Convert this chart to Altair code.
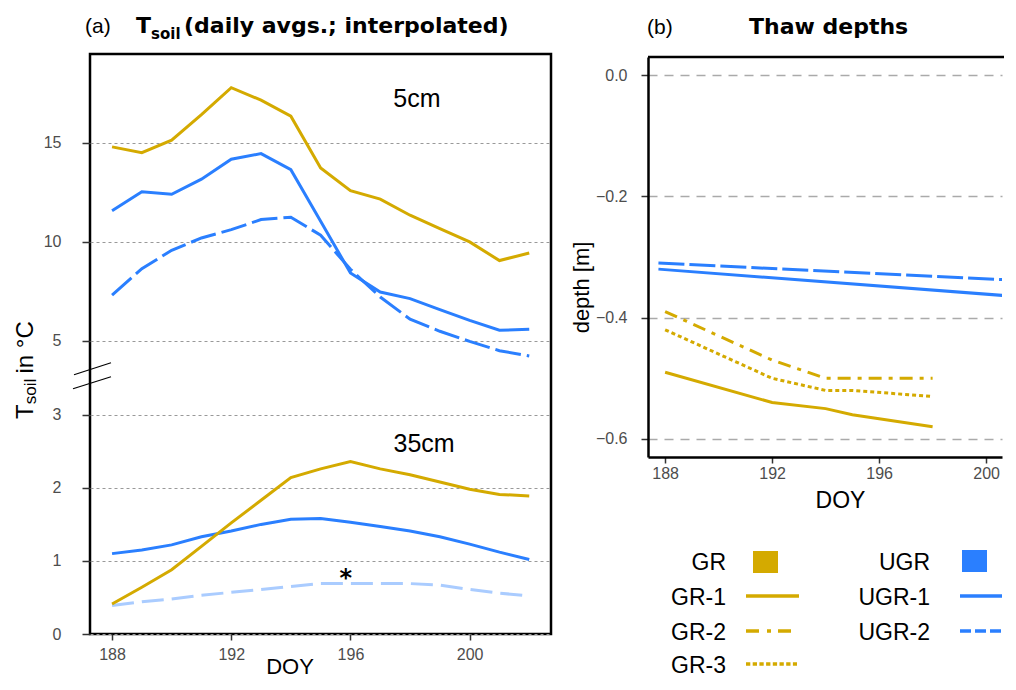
import altair as alt
import pandas as pd

# ---------------- data ----------------
days_a = [188, 189, 190, 191, 192, 193, 194, 195, 196, 197, 198, 199, 200, 201, 202]
gr_5cm = [14.80, 14.51, 15.14, 16.43, 17.79, 17.16, 16.35, 13.74, 12.59, 12.16, 11.35, 10.67, 10.00, 9.06, 9.44]
ugr1_5cm = [11.57, 12.53, 12.41, 13.17, 14.18, 14.46, 13.65, 11.05, 8.43, 7.47, 7.14, 6.58, 6.04, 5.54, 5.59]
ugr2_5cm = [7.31, 8.65, 9.58, 10.20, 10.62, 11.13, 11.25, 10.34, 8.62, 7.22, 6.10, 5.49, 4.98, 4.51, 4.24]
gr_35cm = [0.41, 0.64, 0.88, 1.20, 1.52, 1.83, 2.14, 2.26, 2.36, 2.26, 2.18, 2.08, 1.98, 1.91, 1.89]
ugr1_35cm = [1.10, 1.15, 1.22, 1.33, 1.41, 1.50, 1.57, 1.58, 1.53, 1.47, 1.41, 1.33, 1.23, 1.12, 1.02]
ugr2_35cm = [0.39, 0.44, 0.48, 0.53, 0.57, 0.61, 0.65, 0.69, 0.69, 0.69, 0.69, 0.67, 0.61, 0.56, 0.52]

days_gr_thaw = [188, 192, 194, 195, 198]
gr1_thaw = [-0.49, -0.54, -0.55, -0.56, -0.58]
gr2_thaw = [-0.39, -0.47, -0.50, -0.50, -0.50]
gr3_thaw = [-0.42, -0.50, -0.52, -0.52, -0.53]
days_ugr_thaw = [187.75, 201.4]
ugr1_thaw = [-0.32, -0.366]
ugr2_thaw = [-0.31, -0.339]

x_ticks = [188, 192, 196, 200]
y_ticks_top = [5, 10, 15]
y_ticks_bottom = [0, 1, 2, 3]
y_ticks_thaw = [0.0, -0.2, -0.4, -0.6]

ann_day = [198.23, 198.47, 195.84]
ann_val = [16.82, 2.49, 0.655]
ann_text = ["5cm", "35cm", "*"]

legend_gr = ["GR", "GR-1", "GR-2", "GR-3"]
legend_ugr = ["UGR", "UGR-1", "UGR-2"]

GOLD = "#D4AA00"
BLUE = "#2A7FFF"
LIGHT = "#AACCFF"
LBL = "#4d4d4d"
SANS = "Liberation Sans"
BOLD = "DejaVu Sans"


def frame(days, vals):
    return pd.DataFrame({"day": days, "v": vals})


one = pd.DataFrame({"k": [0]})

# ---------------- panel (a) ----------------
WA, HA = 461, 580
xa = alt.X(
    "day:Q",
    scale=alt.Scale(domain=[187.26, 202.73], nice=False, zero=False),
    axis=alt.Axis(values=x_ticks, title="DOY", titleX=199.5, titleY=39,
                  titleBaseline="alphabetic", titleFontSize=22, titleFontWeight="normal",
                  titleColor="black", domain=False, grid=False, labelFontSize=16,
                  labelColor=LBL, labelPadding=6, tickSize=6, tickColor="#333",
                  tickWidth=1.5, labelFlush=False),
)
y_top = alt.Y(
    "v:Q",
    scale=alt.Scale(domain=[3.08, 19.49], range=[325, 0], nice=False, zero=False),
    axis=alt.Axis(values=y_ticks_top, orient="left", title=None, domain=False, grid=True,
                  gridDash=[3, 3], gridColor="#999", gridWidth=1, labelFontSize=16,
                  labelColor=LBL, labelPadding=21, tickSize=8, tickColor="#333", tickWidth=1.5),
)
y_bot = alt.Y(
    "v:Q",
    scale=alt.Scale(domain=[0, 3.49], range=[580, 325], nice=False, zero=False),
    axis=alt.Axis(values=y_ticks_bottom, orient="left", title=None, domain=False, grid=True,
                  gridDash=[3, 3], gridColor="#999", gridWidth=1, labelFontSize=16,
                  labelColor=LBL, labelPadding=21, tickSize=8, tickColor="#333", tickWidth=1.5),
)


def line(days, vals, color, dash=None, width=3, x=None, y=None, clip=False):
    kw = dict(color=color, strokeWidth=width)
    if dash is not None:
        kw["strokeDash"] = dash
    if clip:
        kw["clip"] = True
    return alt.Chart(frame(days, vals)).mark_line(**kw).encode(x=x, y=y)


ann = pd.DataFrame({"day": ann_day, "v": ann_val, "label": ann_text})

layer5 = alt.layer(
    line(days_a, ugr2_5cm, BLUE, [26, 6], x=xa, y=y_top),
    line(days_a, ugr1_5cm, BLUE, x=xa, y=y_top),
    line(days_a, gr_5cm, GOLD, x=xa, y=y_top),
    alt.Chart(ann.iloc[[0]]).mark_text(font=SANS, fontSize=25, align="center",
                                        baseline="alphabetic", color="black")
    .encode(x=xa, y=y_top, text="label:N"),
)
layer35 = alt.layer(
    line(days_a, ugr2_35cm, LIGHT, [22, 8], x=xa, y=y_bot),
    line(days_a, ugr1_35cm, BLUE, x=xa, y=y_bot),
    line(days_a, gr_35cm, GOLD, x=xa, y=y_bot),
    alt.Chart(ann.iloc[[1]]).mark_text(font=SANS, fontSize=25, align="center",
                                        baseline="alphabetic", color="black")
    .encode(x=xa, y=y_bot, text="label:N"),
    alt.Chart(ann.iloc[[2]]).mark_text(font=BOLD, fontWeight="bold", fontSize=24,
                                        align="center", baseline="alphabetic", color="black")
    .encode(x=xa, y=y_bot, text="label:N"),
)


def txt(s, x, y, size, font=SANS, weight="normal", align="left", angle=0, color="black"):
    kw = dict(text=s, font=font, fontSize=size, fontWeight=weight, align=align,
              baseline="alphabetic", color=color)
    if angle:
        kw["angle"] = angle
    return alt.Chart(one).mark_text(**kw).encode(x=alt.value(x), y=alt.value(y))


def seg(x1, y1, x2, y2, color="black", width=1.2, dash=None, opacity=1):
    kw = dict(color=color, strokeWidth=width)
    if dash is not None:
        kw["strokeDash"] = dash
    if opacity != 1:
        kw["opacity"] = opacity
    return alt.Chart(one).mark_rule(**kw).encode(
        x=alt.value(x1), y=alt.value(y1), x2=alt.value(x2), y2=alt.value(y2))


deco_a = [
    # invisible guide fixing the canvas extent (left / top / bottom)
    seg(-80, -44, -80, 640, "white", 0.001, opacity=0),
    seg(-16, 320.7, 21, 308.7),
    seg(-17, 334.7, 21, 322.7),
    txt("(a)", -5, -21, 21),
    txt("T", 46, -21, 22, BOLD, "bold"),
    txt("soil", 61, -15.3, 15, BOLD, "bold"),
    txt("(daily avgs.; interpolated)", 94, -21, 22, BOLD, "bold"),
    txt("T", -57, 365, 24, angle=270),
    txt("soil", -54, 350.3, 17, angle=270),
    txt("in °C", -57, 319.5, 24, angle=270),
]

panel_a = alt.layer(layer5, layer35, *deco_a).resolve_scale(y="independent").properties(
    width=WA, height=HA)

# ---------------- panel (b) ----------------
WB, HB = 354, 403
xb = alt.X(
    "day:Q",
    scale=alt.Scale(domain=[187.36, 200.594], nice=False, zero=False),
    axis=alt.Axis(values=x_ticks, title="DOY", titleX=192, titleY=50,
                  titleBaseline="alphabetic", titleFontSize=23, titleFontWeight="normal",
                  titleColor="black", domain=True, domainColor="black", domainWidth=2.5,
                  grid=False, labelFontSize=16, labelColor=LBL, labelPadding=2, tickSize=6,
                  tickColor="#333", tickWidth=1.5, labelFlush=False),
)
yb = alt.Y(
    "v:Q",
    scale=alt.Scale(domain=[-0.6298, 0.0298], range=[403, 3], nice=False, zero=False),
    axis=alt.Axis(values=y_ticks_thaw, format=".1f", title="depth [m]", titleX=-60, titleY=233,
                  titleAngle=270, titleBaseline="alphabetic", titleAlign="center",
                  titleFontSize=22, titleFontWeight="normal", titleColor="black",
                  domain=True, domainColor="black", domainWidth=2.5, grid=True,
                  gridDash=[9, 7], gridColor="#aaa", gridWidth=1.3, labelFontSize=16,
                  labelColor=LBL, labelPadding=14, tickSize=7, tickColor="#333", tickWidth=1.5),
)

lines_b = [
    line(days_ugr_thaw, ugr2_thaw, BLUE, [26, 5], x=xb, y=yb, clip=True),
    line(days_ugr_thaw, ugr1_thaw, BLUE, x=xb, y=yb, clip=True),
    line(days_gr_thaw, gr2_thaw, GOLD, [13, 7, 4, 7], x=xb, y=yb, clip=True),
    line(days_gr_thaw, gr3_thaw, GOLD, [4, 3], x=xb, y=yb, clip=True),
    line(days_gr_thaw, gr1_thaw, GOLD, x=xb, y=yb, clip=True),
]

rows_y = [516, 551, 586, 619]
lines_y = [542, 577, 610]
legend_marks = []
for i, s in enumerate(legend_gr):
    legend_marks.append(txt(s, 78, rows_y[i], 23, align="right"))
for i, s in enumerate(legend_ugr):
    legend_marks.append(txt(s, 282, rows_y[i], 23, align="right"))
legend_marks += [
    alt.Chart(one).mark_rect(color=GOLD).encode(
        x=alt.value(105), x2=alt.value(130), y=alt.value(497), y2=alt.value(519)),
    alt.Chart(one).mark_rect(color=BLUE).encode(
        x=alt.value(314), x2=alt.value(339), y=alt.value(496), y2=alt.value(518)),
    seg(98, lines_y[0], 151, lines_y[0], GOLD, 3.5),
    seg(98, lines_y[1], 151, lines_y[1], GOLD, 3.5, [13, 8, 4, 7]),
    seg(98, lines_y[2], 149, lines_y[2], GOLD, 3.5, [4.3, 2.4]),
    seg(312, lines_y[0], WB, lines_y[0], BLUE, 3.5),
    seg(312, lines_y[1], WB, lines_y[1], BLUE, 3.5, [11, 4]),
]

deco_b = [
    # invisible guide fixing the canvas right extent
    seg(WB + 2, 0, WB + 2, 10, "white", 0.001, opacity=0),
    seg(0, 3, WB + 2, 3, "black", 2.5),
    txt("(b)", -1, -20, 21),
    txt("Thaw depths", 101, -20, 22, BOLD, "bold"),
]

panel_b = alt.layer(*lines_b, *deco_b, *legend_marks).properties(
    width=WB, height=HB, view=alt.ViewBackground(stroke="transparent"))

chart = (
    alt.hconcat(panel_a, panel_b, spacing=97, bounds="flush")
    .properties(padding={"left": 0, "top": 0, "right": -2, "bottom": -15})
    .configure_view(stroke="black", strokeWidth=2.5)
    .configure_axis(labelFont=SANS, titleFont=SANS)
)

chart.save("out.html", embed_options={"renderer": "svg", "actions": False})
